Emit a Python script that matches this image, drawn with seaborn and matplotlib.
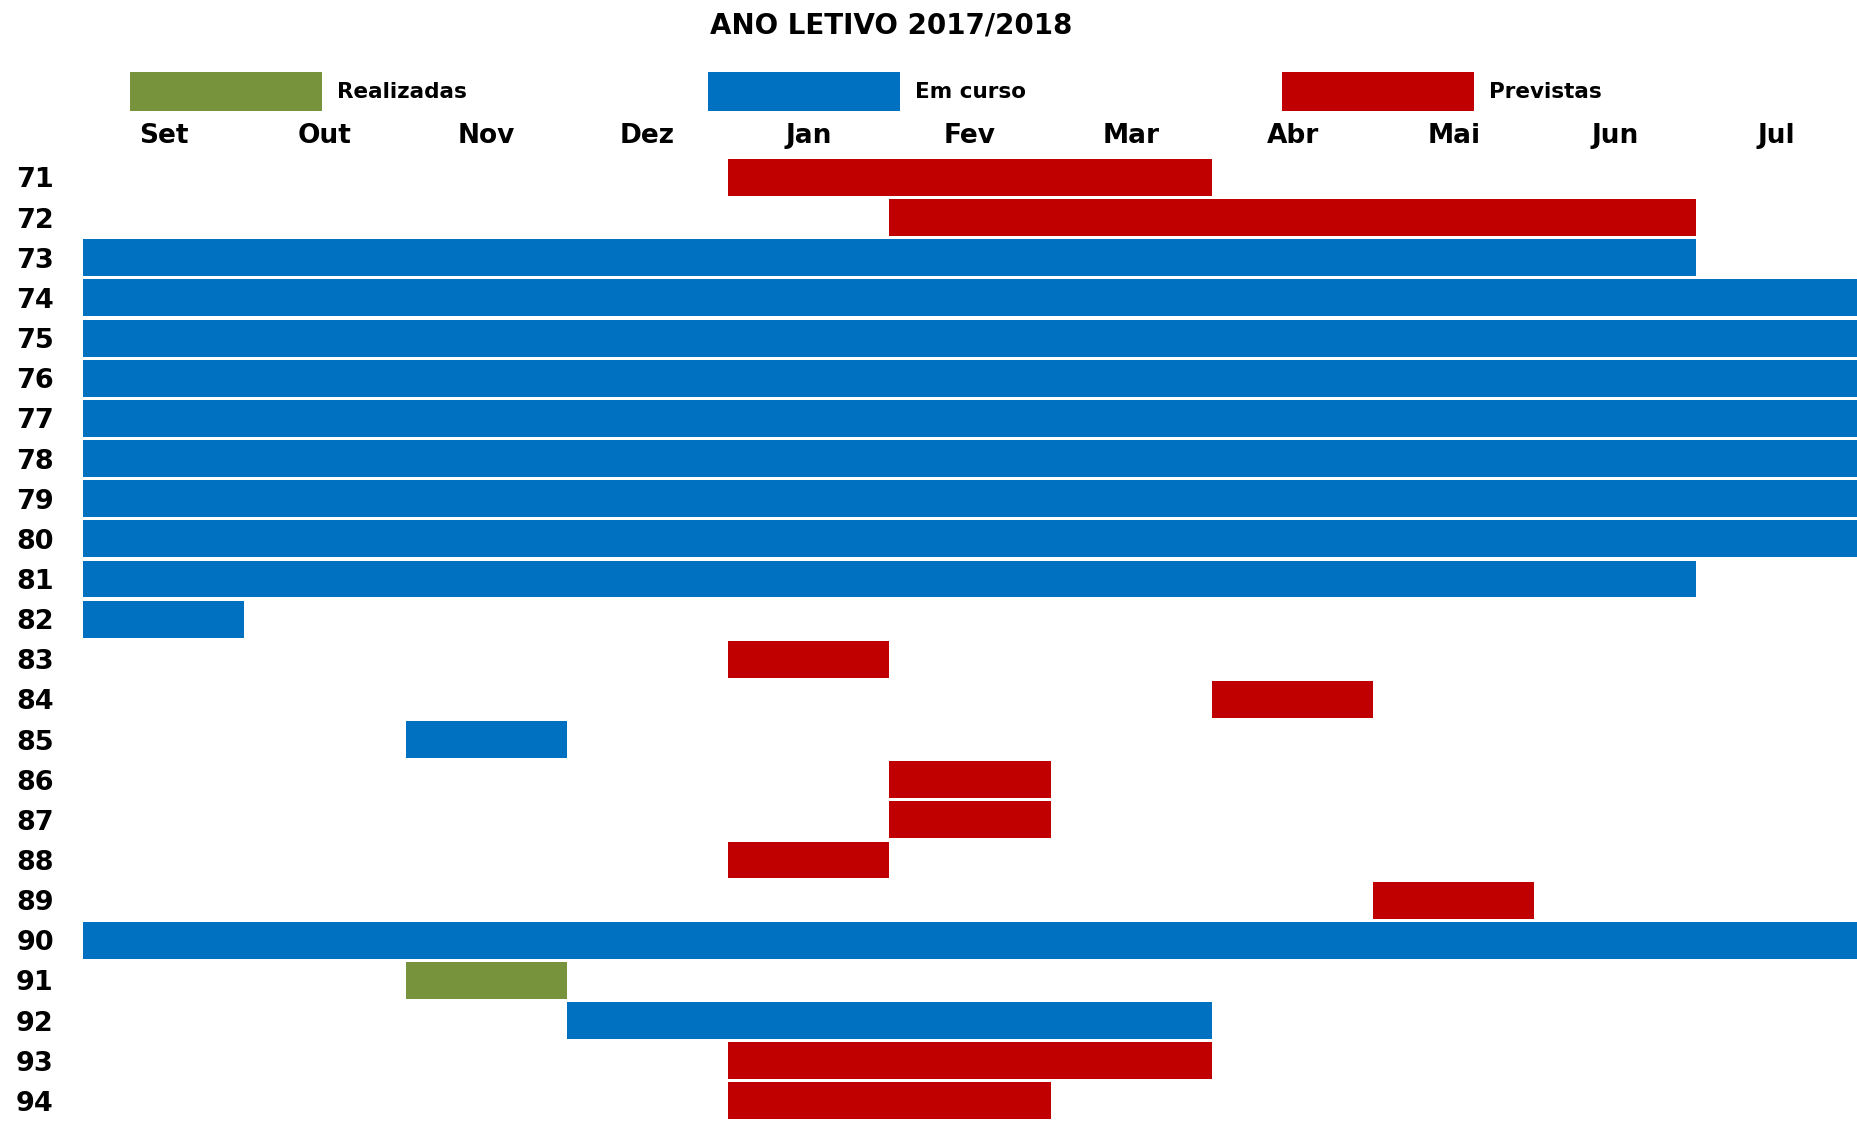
import pandas as pd
import numpy as np
import matplotlib
matplotlib.use("Agg")
import matplotlib.pyplot as plt
import seaborn as sns
from matplotlib.patches import Rectangle

# dados (meses contados a partir de Set = 0)
meses = ["Set", "Out", "Nov", "Dez", "Jan", "Fev", "Mar", "Abr", "Mai", "Jun", "Jul"]
acoes = [str(n) for n in range(71, 95)]
estado = ["Previstas", "Previstas", "Em curso", "Em curso", "Em curso", "Em curso",
          "Em curso", "Em curso", "Em curso", "Em curso", "Em curso", "Em curso",
          "Previstas", "Previstas", "Em curso", "Previstas", "Previstas", "Previstas",
          "Previstas", "Em curso", "Realizadas", "Em curso", "Previstas", "Previstas"]
inicio = [4, 5, 0, 0, 0, 0, 0, 0, 0, 0, 0, 0, 4, 7, 2, 5, 5, 4, 8, 0, 2, 3, 4, 4]
fim = [7, 10, 10, 11, 11, 11, 11, 11, 11, 11, 10, 1, 5, 8, 3, 6, 6, 5, 9, 11, 3, 7, 7, 6]

estados = ["Realizadas", "Em curso", "Previstas"]
cores = {"Realizadas": "#77933C", "Em curso": "#0070C0", "Previstas": "#C00000"}

df = pd.DataFrame({"acao": acoes, "estado": estado, "inicio": inicio, "fim": fim})
df["duracao"] = df["fim"] - df["inicio"]

sns.set_theme(style="white")
plt.rcParams["font.family"] = ["DejaVu Sans"]
plt.rcParams["font.weight"] = "bold"
plt.rcParams["text.color"] = "black"
plt.rcParams["xtick.color"] = "black"
plt.rcParams["ytick.color"] = "black"

W, H = 1857, 1121
fig = plt.figure(figsize=(W / 100, H / 100), dpi=100)
ax = fig.add_axes([83 / W, 0, 1 - 83 / W, 1 - 157.4 / H])

for s in estados:
    sub = df[df["estado"] == s]
    sns.barplot(data=sub, x="duracao", y="acao", order=acoes, orient="y",
                left=sub["inicio"].to_numpy(), color=cores[s], saturation=1,
                width=0.92, linewidth=0, errorbar=None, ax=ax)

ax.set_xlim(0, len(meses))
ax.set_ylim(len(acoes) - 0.5, -0.5)
ax.set_xticks(np.arange(len(meses)) + 0.5)
ax.set_xticklabels(meses, fontsize=19, fontweight="bold", color="black")
ax.set_yticks(range(len(acoes)))
ax.set_yticklabels(acoes, fontsize=19.5, fontweight="bold", color="black")
ax.tick_params(axis="x", top=True, labeltop=True, bottom=False, labelbottom=False,
               length=0, pad=6)
ax.tick_params(axis="y", length=0, pad=21)
ax.set_xlabel("")
ax.set_ylabel("")
sns.despine(ax=ax, left=True, bottom=True)

# titulo
fig.text(891 / W, 1 - 26 / H, "ANO LETIVO 2017/2018", ha="center", va="center",
         fontsize=20, fontweight="bold", color="black")

# legenda
leg_x = {"Realizadas": 130, "Em curso": 708, "Previstas": 1282}
for s in estados:
    x0 = leg_x[s]
    fig.add_artist(Rectangle((x0 / W, 1 - 111 / H), 192 / W, 39 / H,
                             transform=fig.transFigure, color=cores[s], lw=0))
    fig.text((x0 + 207) / W, 1 - 92 / H, s, ha="left", va="center",
             fontsize=15.5, fontweight="bold", color="black")

fig.savefig("out.png", dpi=100)
